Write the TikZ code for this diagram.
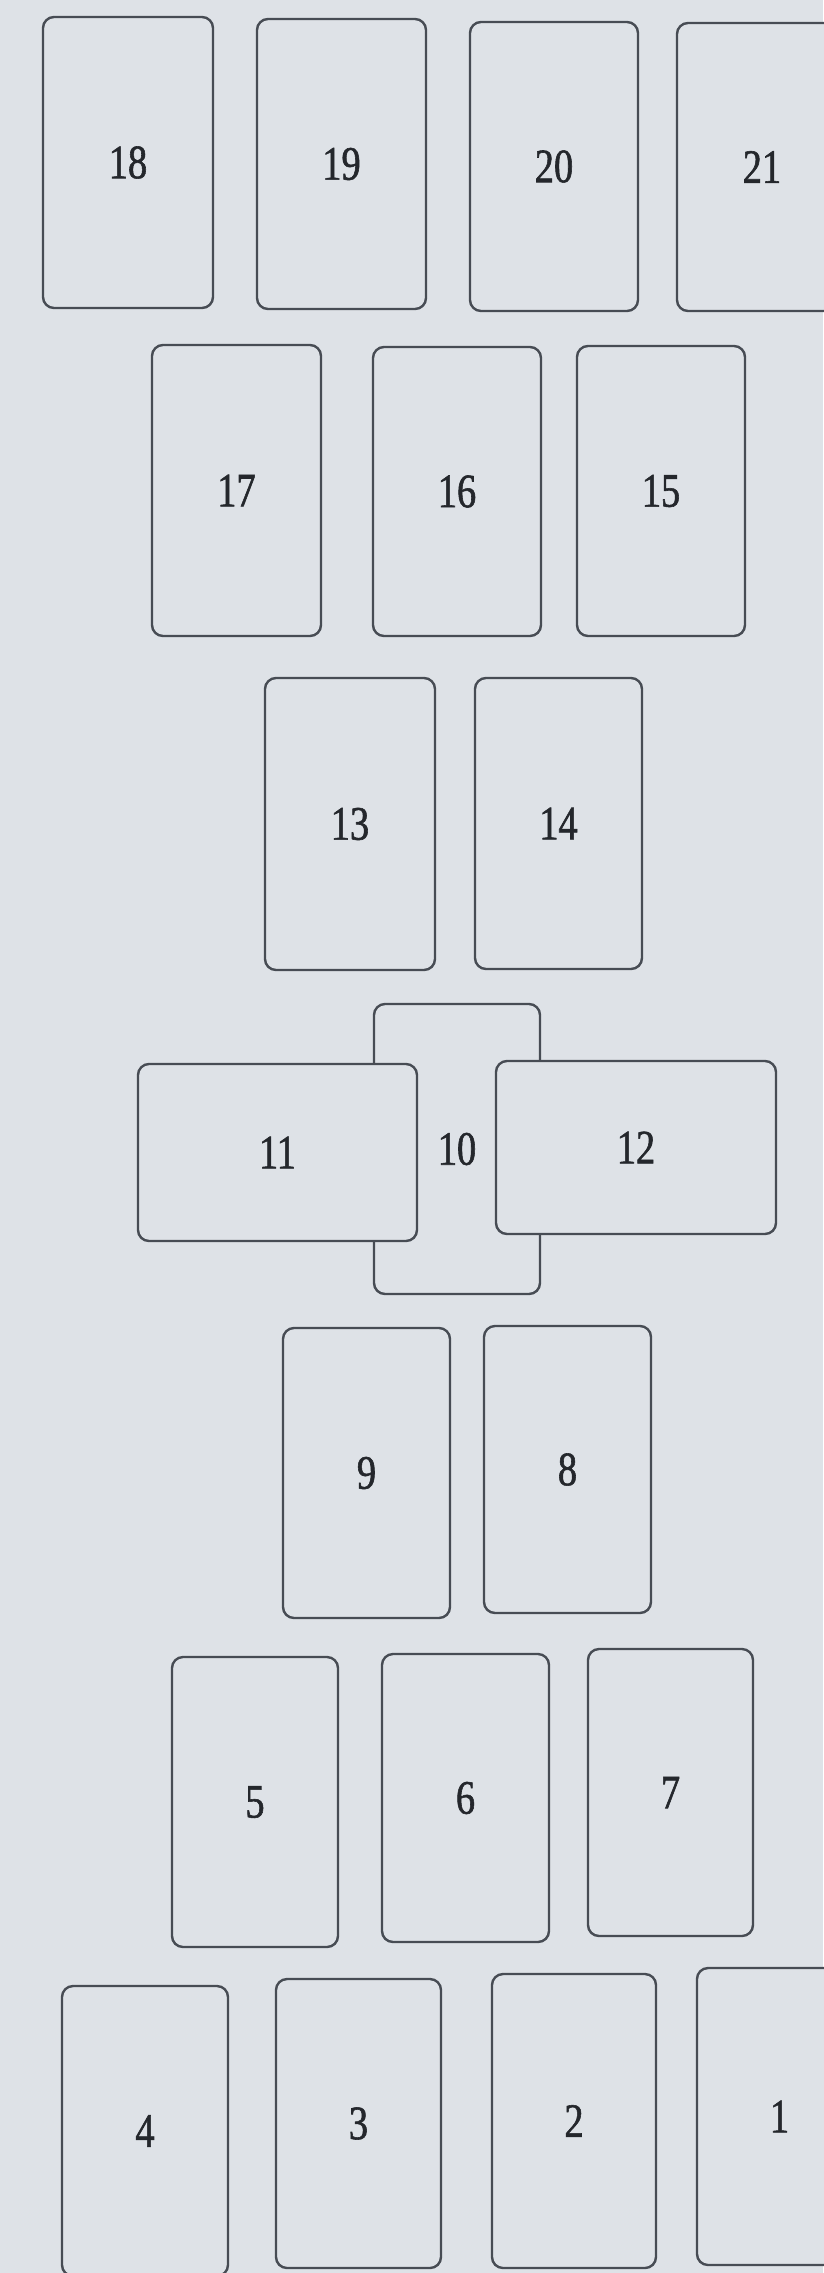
\documentclass[tikz,border=0pt]{standalone}
\usepackage{fontspec}
\setmainfont{Liberation Serif}
\newfontfamily\cardfont[FakeStretch=0.8,FakeBold=1.2]{Liberation Serif}
\definecolor{paper}{HTML}{DEE2E7}
\definecolor{edge}{HTML}{474C54}
\definecolor{ink}{HTML}{24272C}
\tikzset{
  card/.style={draw=edge, fill=paper, line width=2.4pt, rounded corners=11pt,
    inner sep=0pt, outer sep=0pt, text=ink, font=\cardfont\fontsize{48}{48}\selectfont},
}
\begin{document}
\begin{tikzpicture}[x=1pt,y=-1pt]
\path[use as bounding box, fill=paper] (0,0) rectangle (823,2273);
% top row
\node[card, minimum width=170pt, minimum height=291pt] (c18) at (128,162.5) {18};
\node[card, minimum width=169pt, minimum height=290pt] (c19) at (341.5,164) {19};
\node[card, minimum width=168pt, minimum height=289pt] (c20) at (554,166.5) {20};
\node[card, minimum width=170pt, minimum height=288pt] (c21) at (762,167) {21};
% second row
\node[card, minimum width=169pt, minimum height=291pt] (c17) at (236.5,490.5) {17};
\node[card, minimum width=168pt, minimum height=289pt] (c16) at (457,491.5) {16};
\node[card, minimum width=168pt, minimum height=290pt] (c15) at (661,491) {15};
% third row
\node[card, minimum width=170pt, minimum height=292pt] (c13) at (350,824) {13};
\node[card, minimum width=167pt, minimum height=291pt] (c14) at (558.5,823.5) {14};
% cross
\node[card, minimum width=166pt, minimum height=290pt] (c10) at (457,1149) {10};
\node[card, minimum width=279pt, minimum height=177pt] (c11) at (277.5,1152.5) {11};
\node[card, minimum width=280pt, minimum height=173pt] (c12) at (636,1147.5) {12};
% fifth row
\node[card, minimum width=167pt, minimum height=290pt] (c9) at (366.5,1473) {9};
\node[card, minimum width=167pt, minimum height=287pt] (c8) at (567.5,1469.5) {8};
% sixth row
\node[card, minimum width=166pt, minimum height=290pt] (c5) at (255,1802) {5};
\node[card, minimum width=167pt, minimum height=288pt] (c6) at (465.5,1798) {6};
\node[card, minimum width=165pt, minimum height=287pt] (c7) at (670.5,1792.5) {7};
% bottom row
\node[card, minimum width=166pt, minimum height=290pt] (c4) at (145,2131) {4};
\node[card, minimum width=165pt, minimum height=289pt] (c3) at (358.5,2123.5) {3};
\node[card, minimum width=164pt, minimum height=294pt] (c2) at (574,2121) {2};
\node[card, minimum width=165pt, minimum height=297pt] (c1) at (779.5,2116.5) {1};
\end{tikzpicture}
\end{document}
